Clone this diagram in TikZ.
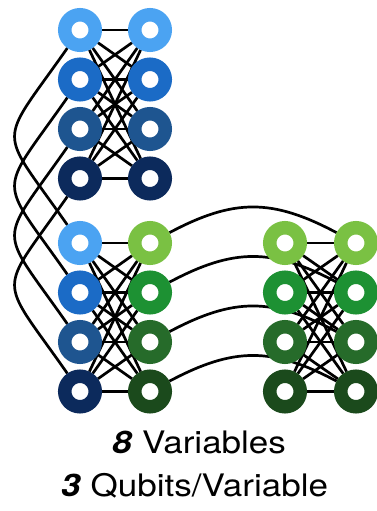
\documentclass[tikz,border=0pt]{standalone}
\usepackage{fontspec}
\setmainfont{TeX Gyre Heros}
\definecolor{blueA}{HTML}{4BA3F2}
\definecolor{blueB}{HTML}{1B6BC6}
\definecolor{blueC}{HTML}{1E5590}
\definecolor{blueD}{HTML}{0C2A5C}
\definecolor{greenA}{HTML}{7AC143}
\definecolor{greenB}{HTML}{1D9133}
\definecolor{greenC}{HTML}{266B2A}
\definecolor{greenD}{HTML}{1B4A1C}
\pgfdeclarelayer{background}
\pgfsetlayers{background,main}
\tikzset{
  qubit/.style={circle,draw=#1,line width=13.5pt,fill=white,
    minimum size=30.5pt,inner sep=0pt},
  coupler/.style={line width=2.7pt,black},
  caption/.style={anchor=base,xscale=1.13,font=\fontsize{31}{37}\selectfont}
}

\begin{document}
\begin{tikzpicture}[x=1pt,y=1pt]
  \useasboundingbox (0,0) rectangle (377,511);
  % unit cells: top (blue), bottom left (blue/green), bottom right (green)
  \foreach \i/\ca/\cb in {1/blueA/greenA,2/blueB/greenB,3/blueC/greenC,4/blueD/greenD}{
    \node[qubit=\ca] (tl\i) at (80,{481-49.5*(\i-1)}) {};
    \node[qubit=\ca] (tr\i) at (150,{481-49.5*(\i-1)}) {};
    \node[qubit=\ca] (bl\i) at (80,{268-49.5*(\i-1)}) {};
    \node[qubit=\cb] (br\i) at (150,{268-49.5*(\i-1)}) {};
    \node[qubit=\cb] (rl\i) at (285,{268-49.5*(\i-1)}) {};
    \node[qubit=\cb] (rr\i) at (356,{268-49.5*(\i-1)}) {};
  }
  \begin{pgfonlayer}{background}
    % couplers inside each cell
    \foreach \i in {1,...,4}{
      \foreach \j in {1,...,4}{
        \draw[coupler] (tl\i) -- (tr\j);
        \draw[coupler] (bl\i) -- (br\j);
        \draw[coupler] (rl\i) -- (rr\j);
      }
    }
    % couplers between cells
    \foreach \i in {1,...,4}{
      \draw[coupler] (tl\i) to[out=235,in=125,looseness=1.78] (bl\i);
      \draw[coupler] (br\i) to[out=28,in=152,looseness=1.12] (rr\i);
    }
  \end{pgfonlayer}
  \node[caption] (vars) at (199,57) {\textbf{\textit{8}} Variables};
  \node[caption] (qpv) at (194.5,14) {\textbf{\textit{3}} Qubits/Variable};
\end{tikzpicture}
\end{document}
